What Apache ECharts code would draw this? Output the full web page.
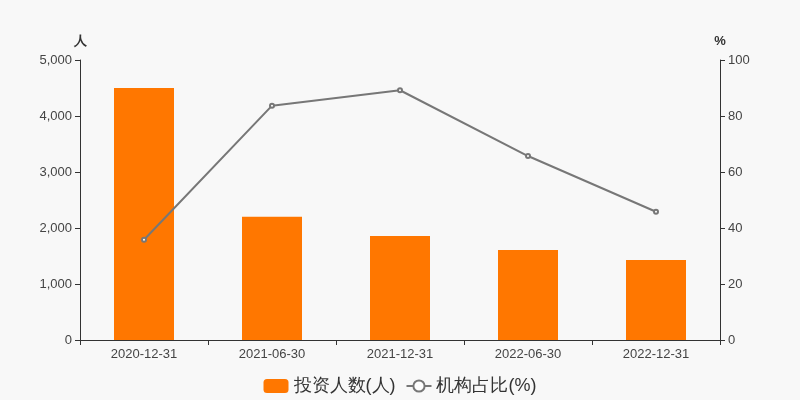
<!DOCTYPE html>
<html><head><meta charset="utf-8">
<script src="https://cdn.jsdelivr.net/npm/echarts@6/dist/echarts.min.js"></script>
<style>html,body{margin:0;padding:0;background:#f8f8f8}#c{width:800px;height:400px}</style>
</head><body><div id="c"></div>
<script>
const categories = ['2020-12-31','2021-06-30','2021-12-31','2022-06-30','2022-12-31'];
const investors = [4500, 2202, 1857, 1607, 1429];
const instRatio = [35.8, 83.7, 89.2, 65.7, 45.8];
const leftTicks = {min:0, max:5000, interval:1000};
const rightTicks = {min:0, max:100, interval:20};

const font = 'sans-serif';
const chart = echarts.init(document.getElementById('c'));
chart.setOption({
  backgroundColor:'#f8f8f8',
  animation:false,
  grid:{left:80, right:80, top:60, bottom:60},
  legend:{
    bottom:0, itemGap:10,
    textStyle:{fontSize:18, color:'#333', fontFamily:font},
    data:[{name:'投资人数(人)', icon:'roundRect'},{name:'机构占比(%)'}],
    itemWidth:25, itemHeight:14
  },
  xAxis:{
    type:'category', data:categories,
    axisLine:{lineStyle:{color:'#333'}},
    axisTick:{show:true, alignWithLabel:false, lineStyle:{color:'#333'}},
    axisLabel:{color:'#444', fontSize:13, fontFamily:font, margin:8}
  },
  yAxis:[{
    type:'value', name:'人', min:leftTicks.min, max:leftTicks.max, interval:leftTicks.interval,
    nameTextStyle:{color:'#333', fontSize:13, fontWeight:'bold', align:'center'},
    nameGap:12,
    axisLine:{show:true, lineStyle:{color:'#333'}},
    axisTick:{show:true, lineStyle:{color:'#333'}},
    splitLine:{show:false},
    axisLabel:{color:'#444', fontSize:13, fontFamily:font,
      formatter:v=>v.toLocaleString('en-US')}
  },{
    type:'value', name:'%', min:rightTicks.min, max:rightTicks.max, interval:rightTicks.interval,
    nameTextStyle:{color:'#333', fontSize:13, fontWeight:'bold', align:'center'},
    nameGap:12,
    axisLine:{show:true, lineStyle:{color:'#333'}},
    axisTick:{show:true, lineStyle:{color:'#333'}},
    splitLine:{show:false},
    axisLabel:{color:'#444', fontSize:13, fontFamily:font}
  }],
  series:[{
    name:'投资人数(人)', type:'bar', data:investors, barWidth:60,
    itemStyle:{color:'#ff7700'}
  },{
    name:'机构占比(%)', type:'line', yAxisIndex:1, data:instRatio,
    symbol:'emptyCircle', symbolSize:4, showAllSymbol:true,
    lineStyle:{color:'#777', width:2},
    itemStyle:{color:'#777', borderColor:'#777'}
  }]
});
</script></body></html>
